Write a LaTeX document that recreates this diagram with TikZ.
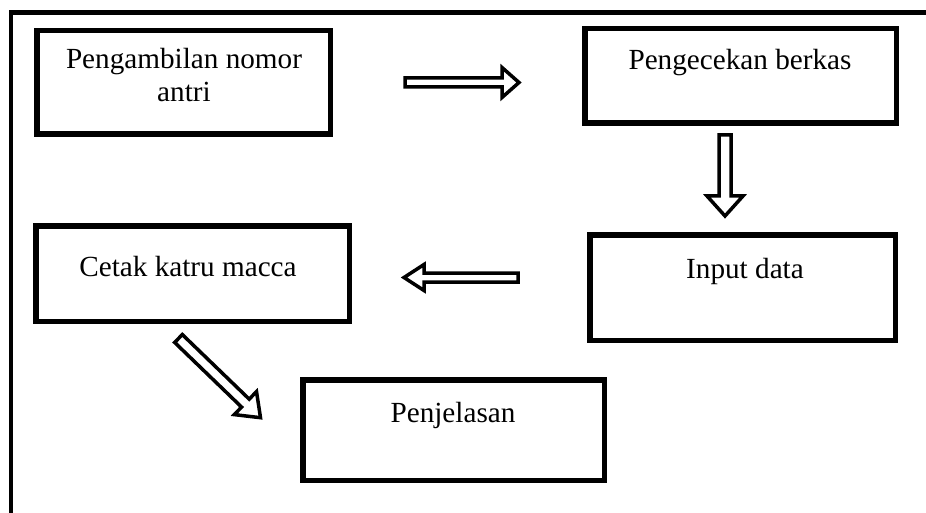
\documentclass[tikz,border=0pt]{standalone}
\usepackage{fontspec}
\setmainfont{Liberation Serif}
\usetikzlibrary{calc}

% hollow block arrow: start point, direction (deg), length, shaft half-width, head half-width, head length
\newcommand\hollowarrow[6]{%
  \draw[blockarrow, shift={(#1)}, rotate=#2]
    (0,-#4) -- (#3-#6,-#4) -- (#3-#6,-#5) -- (#3,0) -- (#3-#6,#5) -- (#3-#6,#4) -- (0,#4) -- cycle;}

\tikzset{
  box/.style={draw, line width=5.5pt, rectangle, inner sep=0pt},
  lbl/.style={font=\fontsize{29.2}{33}\selectfont, anchor=base, inner sep=0pt, align=center},
  blockarrow/.style={draw, line width=3.5pt, line join=miter, fill=white},
  frameline/.style={line width=4.3pt}
}

\begin{document}
\begin{tikzpicture}[x=1pt, y=-1pt]
  \useasboundingbox (0,0) rectangle (926,513);

  % open outer frame (left and top sides)
  \coordinate (fb) at (11,513);
  \coordinate (fc) at (11,12.5);
  \coordinate (fr) at (926,12.5);
  \draw[frameline] (fb) -- (fc) -- (fr);

  % process boxes
  \node[box, minimum width=293.5pt, minimum height=103.5pt] (b1) at (183.75,82.25) {};
  \node[box, minimum width=311.5pt, minimum height=94.5pt]  (b2) at (740.5,76) {};
  \node[box, minimum width=313.5pt, minimum height=95.5pt]  (b3) at (192.5,273.5) {};
  \node[box, minimum width=305.5pt, minimum height=105.5pt] (b4) at (742.5,287.5) {};
  \node[box, minimum width=301.5pt, minimum height=100.5pt] (b5) at (453.5,430) {};

  % box texts
  \node[lbl] (t1a) at (184,69) {Pengambilan nomor};
  \node[lbl] (t1b) at (184,102) {antri};
  \node[lbl] (t2) at (740,70) {Pengecekan berkas};
  \node[lbl] (t3) at (188,276) {Cetak katru macca};
  \node[lbl] (t4) at (745,278) {Input data};
  \node[lbl] (t5) at (453,422) {Penjelasan};

  % hollow arrows between the steps
  \coordinate (a1) at (405,82.5);
  \coordinate (a2) at (725,135);
  \coordinate (a3) at (518,277.5);
  \coordinate (a4) at (178.5,338.5);
  \hollowarrow{a1}{0}{114}{4.5}{15}{17}
  \hollowarrow{a2}{-90}{81}{6}{18}{20}
  \hollowarrow{a3}{180}{114}{4.5}{13}{20}
  \hollowarrow{a4}{-44}{114}{5.5}{16}{21}
\end{tikzpicture}
\end{document}
